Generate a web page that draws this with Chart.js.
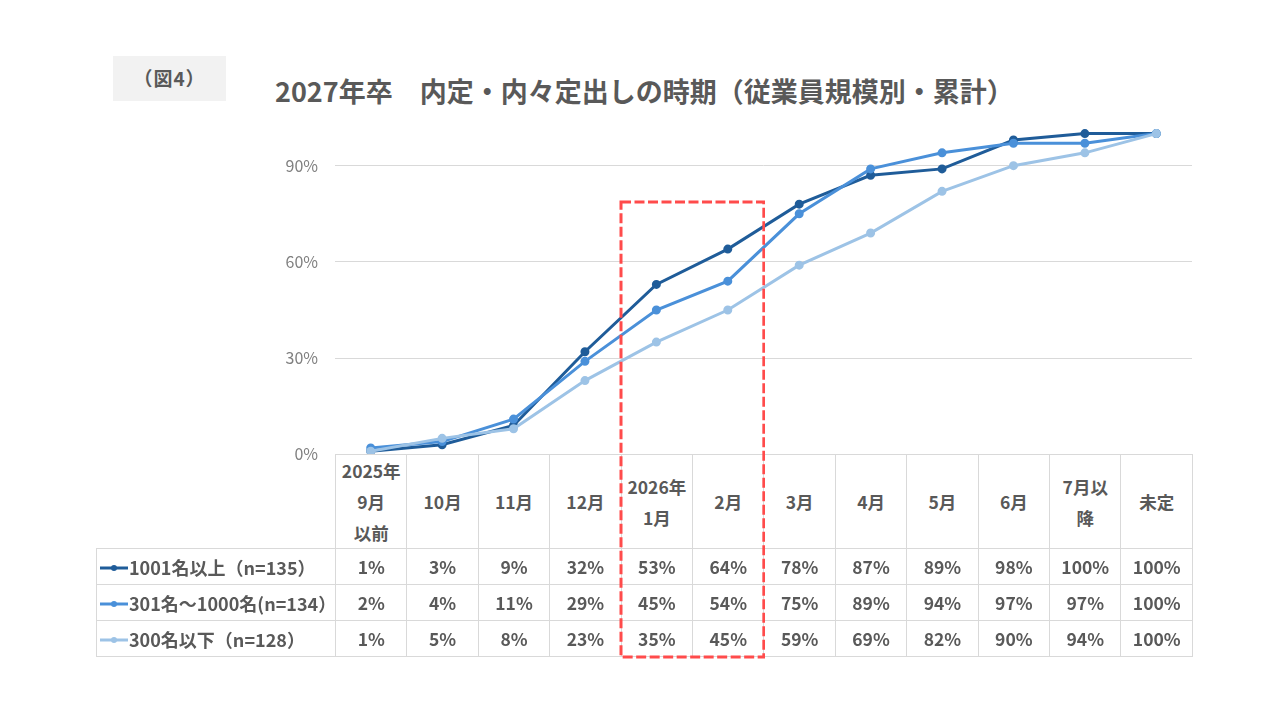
<!DOCTYPE html>
<html>
<head>
    <meta charset="utf-8">
    <title>2027年卒 内定・内々定出しの時期</title>
    <style>
        body {
            margin: 0;
            width: 1280px;
            height: 720px;
            background: #fff;
            font-family: "Noto Sans CJK JP", "Noto Sans", sans-serif;
            color: #595959;
            position: relative;
            overflow: hidden;
        }

        #figLabel {
            position: absolute;
            left: 113px;
            top: 56px;
            width: 113px;
            height: 45px;
            background: #f2f2f2;
            font-size: 19px;
            font-weight: bold;
            letter-spacing: 1px;
            line-height: 44px;
            text-align: center;
        }

        #title {
            position: absolute;
            left: 275px;
            top: 71px;
            font-size: 27px;
            font-weight: bold;
            white-space: nowrap;
            line-height: 40px;
        }

        #chartBox {
            position: absolute;
            left: 260px;
            top: 107px;
            width: 940px;
            height: 374px;
        }

        #dataTable {
            position: absolute;
            left: 96px;
            top: 454px;
            border-collapse: collapse;
            table-layout: fixed;
            width: 1097px;
        }

        #dataTable td, #dataTable th {
            border: 1px solid #d9d9d9;
            text-align: center;
            font-size: 17.5px;
            font-weight: bold;
            color: #595959;
            padding: 0;
            background: #fff;
        }

        #dataTable th {
            height: 93px;
            line-height: 31px;
        }

        #dataTable th.blank {
            border: none;
            background: transparent;
        }

        #dataTable td {
            height: 35px;
        }

        #dataTable td.name {
            text-align: left;
            white-space: nowrap;
            font-size: 18px;
        }

        .marker {
            vertical-align: middle;
            margin: 0 1px 3px 3px;
        }

        #focusBox {
            position: absolute;
            pointer-events: none;
        }
    </style>
</head>
<body>
    <div id="figLabel">（図4）</div>
    <div id="title">2027年卒　内定・内々定出しの時期（従業員規模別・累計）</div>
    <div id="chartBox"><canvas id="timingChart"></canvas></div>
    <table id="dataTable"></table>
    <svg id="focusBox"></svg>

    <script src="https://cdn.jsdelivr.net/npm/chart.js"></script>
    <script>
        // categories (\n = line break in the table header)
        const periods = ['2025年\n9月\n以前', '10月', '11月', '12月', '2026年\n1月', '2月',
                         '3月', '4月', '5月', '6月', '7月以\n降', '未定'];

        const seriesNames = ['1001名以上（n=135）', '301名～1000名(n=134）', '300名以下（n=128）'];

        // cumulative share (%)
        const large  = [1, 3, 9, 32, 53, 64, 78, 87, 89, 98, 100, 100];
        const medium = [2, 4, 11, 29, 45, 54, 75, 89, 94, 97, 97, 100];
        const small  = [1, 5, 8, 23, 35, 45, 59, 69, 82, 90, 94, 100];

        const yTicks = [0, 30, 60, 90];

        // highlighted columns (2026年1月 and 2月)
        const focusFrom = 4;
        const focusTo = 5;

        const colors = ['#1f5c99', '#4a90d9', '#9dc3e6'];
        const seriesData = [large, medium, small];

        function markerSvg(color) {
            return '<svg class="marker" width="28" height="8">' +
                '<line x1="0" y1="4" x2="28" y2="4" stroke="' + color + '" stroke-width="3"/>' +
                '<circle cx="14" cy="4" r="3" fill="' + color + '"/></svg>';
        }

        function buildTable() {
            const table = document.getElementById('dataTable');
            let html = '<colgroup><col style="width:239px">';
            periods.forEach(() => { html += '<col style="width:71.42px">'; });
            html += '</colgroup><tr><th class="blank"></th>';
            periods.forEach(p => { html += '<th>' + p.replace(/\n/g, '<br>') + '</th>'; });
            html += '</tr>';
            seriesData.forEach((values, s) => {
                html += '<tr><td class="name">' + markerSvg(colors[s]) + seriesNames[s] + '</td>';
                values.forEach(v => { html += '<td>' + v + '%</td>'; });
                html += '</tr>';
            });
            table.innerHTML = html;
        }

        function placeFocusBox(chart) {
            const x = chart.scales.x;
            const half = (x.getPixelForValue(1) - x.getPixelForValue(0)) / 2;
            const box = document.getElementById('chartBox');
            const left = box.offsetLeft + x.getPixelForValue(focusFrom) - half;
            const right = box.offsetLeft + x.getPixelForValue(focusTo) + half;
            const top = 202;
            const bottom = 657;
            const svg = document.getElementById('focusBox');
            svg.style.left = (left - 2) + 'px';
            svg.style.top = (top - 2) + 'px';
            svg.setAttribute('width', right - left + 4);
            svg.setAttribute('height', bottom - top + 4);
            svg.innerHTML = '<rect x="2" y="2" width="' + (right - left) + '" height="' + (bottom - top) +
                '" fill="none" stroke="#ff4b4b" stroke-width="3" stroke-dasharray="10 3.5"/>';
        }

        buildTable();

        const ctx = document.getElementById('timingChart').getContext('2d');
        const timingChart = new Chart(ctx, {
            type: 'line',
            data: {
                labels: periods,
                datasets: seriesData.map((values, s) => ({
                    label: seriesNames[s],
                    data: values,
                    borderColor: colors[s],
                    backgroundColor: colors[s],
                    borderWidth: 3,
                    pointRadius: 3,
                    pointHoverRadius: 4,
                    tension: 0,
                    clip: false
                })).reverse()
            },
            options: {
                responsive: true,
                maintainAspectRatio: false,
                animation: false,
                layout: { padding: { top: 13, right: 8, bottom: 6, left: 0 } },
                scales: {
                    x: {
                        type: 'category',
                        display: false,
                        offset: true
                    },
                    y: {
                        min: 0,
                        max: 100,
                        afterBuildTicks: scale => {
                            scale.ticks = yTicks.map(v => ({ value: v }));
                        },
                        afterFit: scale => { scale.width = 75; },
                        ticks: {
                            padding: 17,
                            color: '#7f7f7f',
                            font: { family: '"Noto Sans CJK JP", sans-serif', size: 16 },
                            callback: v => v + '%'
                        },
                        grid: { color: '#d9d9d9', drawTicks: false },
                        border: { display: false }
                    }
                },
                plugins: {
                    legend: { display: false },
                    tooltip: { enabled: false }
                }
            }
        });

        placeFocusBox(timingChart);
    </script>
</body>
</html>
